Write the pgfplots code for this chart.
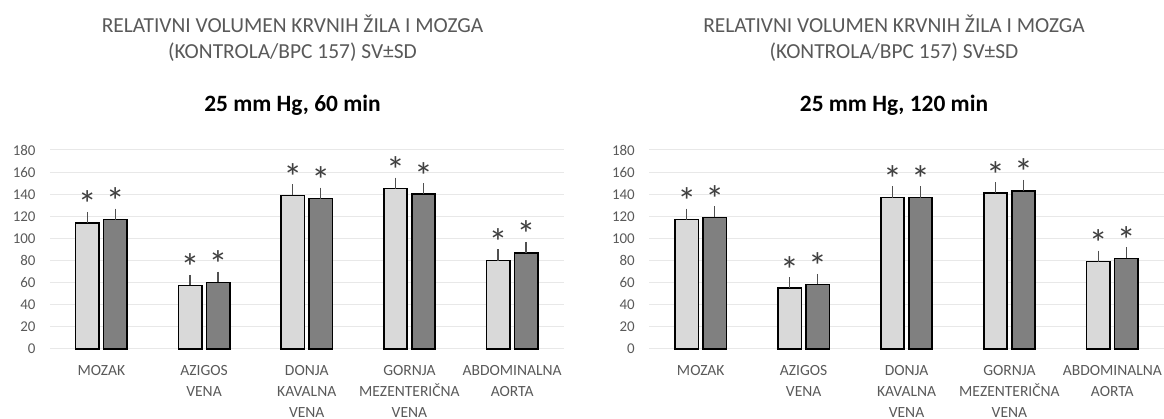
\documentclass[border=0pt]{standalone}
\usepackage{fontspec}
\setmainfont{Carlito}
\usepackage{pgfplots}
\usepackage{pgfplotstable}
\pgfplotsset{compat=1.18}
\definecolor{lightbar}{HTML}{D9D9D9}
\definecolor{darkbar}{HTML}{808080}
\definecolor{txtgray}{HTML}{595959}
\definecolor{gridc}{HTML}{E8E8E8}
\definecolor{errc}{HTML}{505050}
\definecolor{starc}{HTML}{404040}

\pgfplotstableread{
x a ae b be
0 114 10 117 10
1 57.5 9.5 60.3 9.7
2 139 10 136 10
3 145 10 140 10
4 80 10 87 10
}\dataA
\pgfplotstableread{
x a ae b be
0 117 10 119 10
1 55.4 9.6 58.4 9.6
2 137 10 137 10
3 141 10 143 10
4 79 10 82 10
}\dataB

\pgfplotsset{
 mychart/.style={
  scale only axis, height=199bp,
  xmin=-0.5, xmax=4.5, ymin=0, ymax=180,
  ytick={0,20,...,180},
  xtick={0,...,4},
  xticklabels={MOZAK, {AZIGOS\\VENA}, {DONJA\\KAVALNA\\VENA}, {GORNJA\\MEZENTERIČNA\\VENA}, {ABDOMINALNA\\AORTA}},
  axis line style={draw=none},
  major tick length=0pt,
  ymajorgrids, grid style={gridc, line width=1bp},
  yticklabel style={font=\fontsize{15}{18}\selectfont, text=txtgray, /pgf/number format/assume math mode=true, xshift=-11bp},
  xticklabel style={font=\fontsize{15.6}{21}\selectfont, text=txtgray, align=center, anchor=north, yshift=-13bp},
  anchor=south west, clip=false,
 },
 barbase/.style={ybar, bar width=23.4bp, draw=black, line width=1.6bp,
   error bars/y dir=plus, error bars/y explicit, error bars/error mark=none},
 lbar/.style={barbase, bar shift=-14bp, fill=lightbar,
   error bars/error bar style={errc, line width=1.4bp, solid, xshift=-14bp}},
 dbar/.style={barbase, bar shift=14bp, fill=darkbar,
   error bars/error bar style={errc, line width=1.4bp, solid, xshift=14bp}},
 stars/.style={draw=none, mark=none, nodes near coords={*},
   every node near coord/.append style={font=\fontsize{38}{40}\selectfont, text=starc, anchor=base, yshift=-6bp, xshift=#1}},
}

\begin{document}
\begin{tikzpicture}
\path[use as bounding box] (0,0) rectangle (1164bp,419bp);
\node[text=txtgray, font=\fontsize{21.5}{24}\selectfont] at (292.5bp,395bp) {RELATIVNI VOLUMEN KRVNIH ŽILA I MOZGA};
\node[text=txtgray, font=\fontsize{21.5}{24}\selectfont] at (292.5bp,367.3bp) {(KONTROLA/BPC 157) SV±SD};
\node[text=black, font=\bfseries\fontsize{23.5}{28}\selectfont] at (292.5bp,314bp) {25 mm Hg, 60 min};
\node[text=txtgray, font=\fontsize{21.5}{24}\selectfont] at (894bp,395bp) {RELATIVNI VOLUMEN KRVNIH ŽILA I MOZGA};
\node[text=txtgray, font=\fontsize{21.5}{24}\selectfont] at (894bp,367.3bp) {(KONTROLA/BPC 157) SV±SD};
\node[text=black, font=\bfseries\fontsize{23.5}{28}\selectfont] at (894bp,314bp) {25 mm Hg, 120 min};

\begin{axis}[mychart, width=513.5bp, at={(50bp,70bp)}]
\addplot[lbar] table[x=x, y=a, y error=ae] {\dataA};
\addplot[dbar] table[x=x, y=b, y error=be] {\dataA};
\addplot[stars=-14bp] table[x=x, y expr=\thisrow{a}+\thisrow{ae}] {\dataA};
\addplot[stars=14bp] table[x=x, y expr=\thisrow{b}+\thisrow{be}] {\dataA};
\end{axis}

\begin{axis}[mychart, width=514.5bp, at={(649.3bp,70bp)}]
\addplot[lbar] table[x=x, y=a, y error=ae] {\dataB};
\addplot[dbar] table[x=x, y=b, y error=be] {\dataB};
\addplot[stars=-14bp] table[x=x, y expr=\thisrow{a}+\thisrow{ae}] {\dataB};
\addplot[stars=14bp] table[x=x, y expr=\thisrow{b}+\thisrow{be}] {\dataB};
\end{axis}
\end{tikzpicture}
\end{document}
